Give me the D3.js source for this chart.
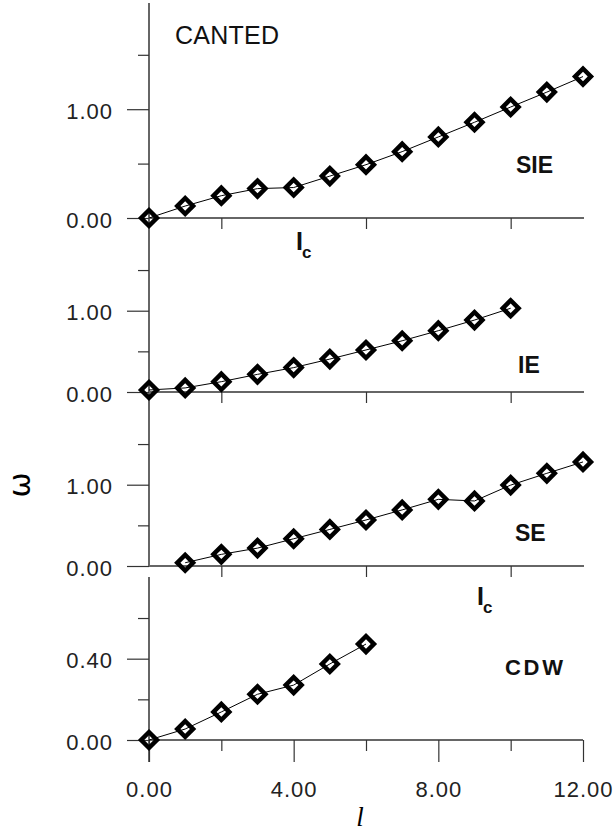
<!DOCTYPE html>
<meta charset="utf-8">
<style>
body { margin: 0; background: #fff; }
svg { display: block; }
.tick text { font-family: "Liberation Sans", Arial, sans-serif; font-size: 22px; letter-spacing: 1px; fill: #222; }
.axis line { stroke: #333; stroke-width: 1.2px; }
.axis path { display: none; }
.spine { stroke: #666; stroke-width: 2px; }
.curve { fill: none; stroke: #000; stroke-width: 1px; }
.dot { fill: none; stroke: #000; stroke-width: 4.5px; }
.lab { font-family: "Liberation Sans", Arial, sans-serif; fill: #111; }
</style>
<body>
<script src="https://d3js.org/d3.v7.min.js"></script>
<script>

// values (l on x, omega on y)
var sieL = [0, 1, 2, 3, 4, 5, 6, 7, 8, 9, 10, 11, 12];
var sieW = [0.00, 0.11, 0.205, 0.27, 0.28, 0.385, 0.49, 0.61, 0.745, 0.88, 1.02, 1.157, 1.30];

var ieL = [0, 1, 2, 3, 4, 5, 6, 7, 8, 9, 10];
var ieW = [0.025, 0.05, 0.127, 0.217, 0.30, 0.405, 0.517, 0.63, 0.754, 0.885, 1.03];

var seL = [1, 2, 3, 4, 5, 6, 7, 8, 9, 10, 11, 12];
var seW = [0.04, 0.143, 0.22, 0.335, 0.45, 0.566, 0.69, 0.82, 0.80, 0.995, 1.14, 1.28];

var cdwL = [0, 1, 2, 3, 4, 5, 6];
var cdwW = [0.00, 0.054, 0.138, 0.225, 0.27, 0.374, 0.472];

// tick values
var xMajor = [0, 4, 8, 12];
var xMinor = [2, 6, 10];
var wMajor = [0, 1];
var wMinor = [0.5, 1.5];
var cdwMajor = [0, 0.4];
var cdwMinor = [0.2, 0.6];

var width = 616, height = 834;

var svg = d3.select("body").append("svg")
    .attr("width", width)
    .attr("height", height);

var x = d3.scaleLinear().domain([0, 12]).range([149, 583]);

// each panel: zero line pixel, pixels per unit, extent of the left spine
var panels = [
  {name: "SIE", l: sieL, w: sieW, zero: 218, unit: 108.8, top: 3,   bottom: 245, major: wMajor, minor: wMinor},
  {name: "IE",  l: ieL,  w: ieW,  zero: 392, unit: 81.3,  top: 245, bottom: 403, major: wMajor, minor: wMinor},
  {name: "SE",  l: seL,  w: seW,  zero: 566, unit: 81.3,  top: 403, bottom: 566, major: wMajor, minor: wMinor},
  {name: "CDW", l: cdwL, w: cdwW, zero: 740, unit: 203.3, top: 577, bottom: 762, major: cdwMajor, minor: cdwMinor}
];

var diamond = d3.symbol().type(d3.symbolSquare).size(125);

panels.forEach(function(p, i) {
  var y = d3.scaleLinear().domain([0, 1]).range([p.zero, p.zero - p.unit]);
  var g = svg.append("g");
  var last = i == panels.length - 1;

  // left spine
  g.append("line").attr("class", "spine")
      .attr("x1", x(0)).attr("x2", x(0))
      .attr("y1", p.top).attr("y2", p.bottom);

  // x line at omega = 0
  g.append("line").attr("class", "spine")
      .attr("x1", x(0)).attr("x2", x(12) + (last ? 0 : 1))
      .attr("y1", y(0)).attr("y2", y(0));

  // y ticks
  g.append("g").attr("class", "axis")
      .attr("transform", "translate(" + x(0) + ",0)")
      .call(d3.axisLeft(y).tickValues(p.major).tickSize(22).tickPadding(14)
            .tickFormat(d3.format(".2f")))
      .selectAll("text").attr("dy", "0.42em");
  g.append("g").attr("class", "axis")
      .attr("transform", "translate(" + x(0) + ",0)")
      .call(d3.axisLeft(y).tickValues(p.minor).tickSize(11).tickFormat(""));

  // x ticks
  g.append("g").attr("class", "axis")
      .attr("transform", "translate(0," + y(0) + ")")
      .call(d3.axisBottom(x).tickValues(xMinor).tickSize(11).tickFormat(""));
  if (last) {
    g.append("g").attr("class", "axis")
        .attr("transform", "translate(0," + y(0) + ")")
        .call(d3.axisBottom(x).tickValues(xMajor).tickSize(22).tickPadding(19)
              .tickFormat(d3.format(".2f")));
  }

  var pts = p.l.map(function(d, j) { return [d, p.w[j]]; });

  g.append("path")
      .datum(pts)
      .attr("class", "curve")
      .attr("d", d3.line()
          .x(function(d) { return x(d[0]); })
          .y(function(d) { return y(d[1]); }));

  g.selectAll(".dot").data(pts).enter()
    .append("path")
      .attr("class", "dot")
      .attr("d", diamond)
      .attr("transform", function(d) {
        return "translate(" + x(d[0]) + "," + y(d[1]) + ") rotate(45)";
      });
});

// panel names
svg.append("text").attr("class", "lab")
    .attr("x", 175).attr("y", 44)
    .attr("font-size", 25).attr("textLength", 104).attr("lengthAdjust", "spacing")
    .text("CANTED");
svg.append("text").attr("class", "lab")
    .attr("x", 516).attr("y", 173).attr("font-size", 23).attr("font-weight", "bold")
    .text("SIE");
svg.append("text").attr("class", "lab")
    .attr("x", 518).attr("y", 373).attr("font-size", 23).attr("font-weight", "bold")
    .text("IE");
svg.append("text").attr("class", "lab")
    .attr("x", 515).attr("y", 541).attr("font-size", 23).attr("font-weight", "bold")
    .text("SE");
svg.append("text").attr("class", "lab")
    .attr("x", 505).attr("y", 675).attr("font-size", 22).attr("font-weight", "bold")
    .attr("textLength", 58).attr("lengthAdjust", "spacing")
    .text("CDW");

// l_c markers
[[296, 250], [477, 605]].forEach(function(c) {
  var t = svg.append("text").attr("class", "lab")
      .attr("x", c[0]).attr("y", c[1]).attr("font-weight", "bold");
  t.append("tspan").attr("font-size", 25).text("I");
  t.append("tspan").attr("font-size", 17).attr("dy", 8).attr("dx", -1).text("c");
});

// axis titles
svg.append("text")
    .attr("transform", "translate(30,485) rotate(-90)")
    .attr("text-anchor", "middle")
    .attr("font-family", "'DejaVu Sans', sans-serif")
    .attr("font-size", 30)
    .text("ω");
svg.append("text")
    .attr("x", 360).attr("y", 826)
    .attr("text-anchor", "middle")
    .attr("font-family", "'Liberation Serif', serif")
    .attr("font-style", "italic")
    .attr("font-size", 27)
    .text("l");

</script>
</body>
